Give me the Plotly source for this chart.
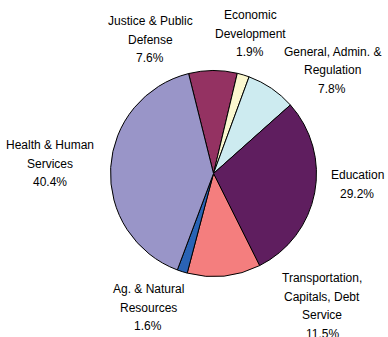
import plotly.graph_objects as go

# Budget shares by program area (percent), clockwise from the top
categories = [
    "Justice & Public<br>Defense",
    "Economic<br>Development",
    "General, Admin. &<br>Regulation",
    "Education",
    "Transportation,<br>Capitals, Debt<br>Service",
    "Ag. & Natural<br>Resources",
    "Health & Human<br>Services",
]
shares = [7.6, 1.9, 7.8, 29.2, 11.5, 1.6, 40.4]
slice_colors = ["#943262", "#FBF8CF", "#CDEBF0", "#5F1E5F", "#F47E7E", "#2A63B5", "#9995C8"]

W, H = 388, 337

# label placement (pixel centre of first line)
label_pos = [(150, 21), (250, 15), (332, 52), (357, 175), (322, 278), (148, 289), (50, 145)]
line_gap = 18.5

# pie placement in pixels
cx, cy, r = 213.5, 173.5, 103

fig = go.Figure(
    go.Pie(
        labels=categories,
        values=shares,
        sort=False,
        direction="clockwise",
        rotation=-14,
        textinfo="none",
        hoverinfo="skip",
        marker=dict(colors=slice_colors, line=dict(color="#000000", width=1)),
        domain=dict(
            x=[(cx - r) / W, (cx + r) / W],
            y=[1 - (cy + r) / H, 1 - (cy - r) / H],
        ),
        showlegend=False,
    )
)

annotations = []
for name, val, (px, py) in zip(categories, shares, label_pos):
    lines = name.split("<br>") + [f"{val:.1f}%"]
    for i, line in enumerate(lines):
        annotations.append(
            dict(
                x=px / W,
                y=1 - (py + i * line_gap) / H,
                xref="paper",
                yref="paper",
                text=line,
                showarrow=False,
                xanchor="center",
                yanchor="middle",
                font=dict(family="Liberation Sans, Arial, sans-serif", size=12, color="#000000"),
            )
        )

fig.update_layout(
    width=W,
    height=H,
    margin=dict(l=0, r=0, t=0, b=0),
    paper_bgcolor="white",
    plot_bgcolor="white",
    annotations=annotations,
)

fig.write_html("out.html")
